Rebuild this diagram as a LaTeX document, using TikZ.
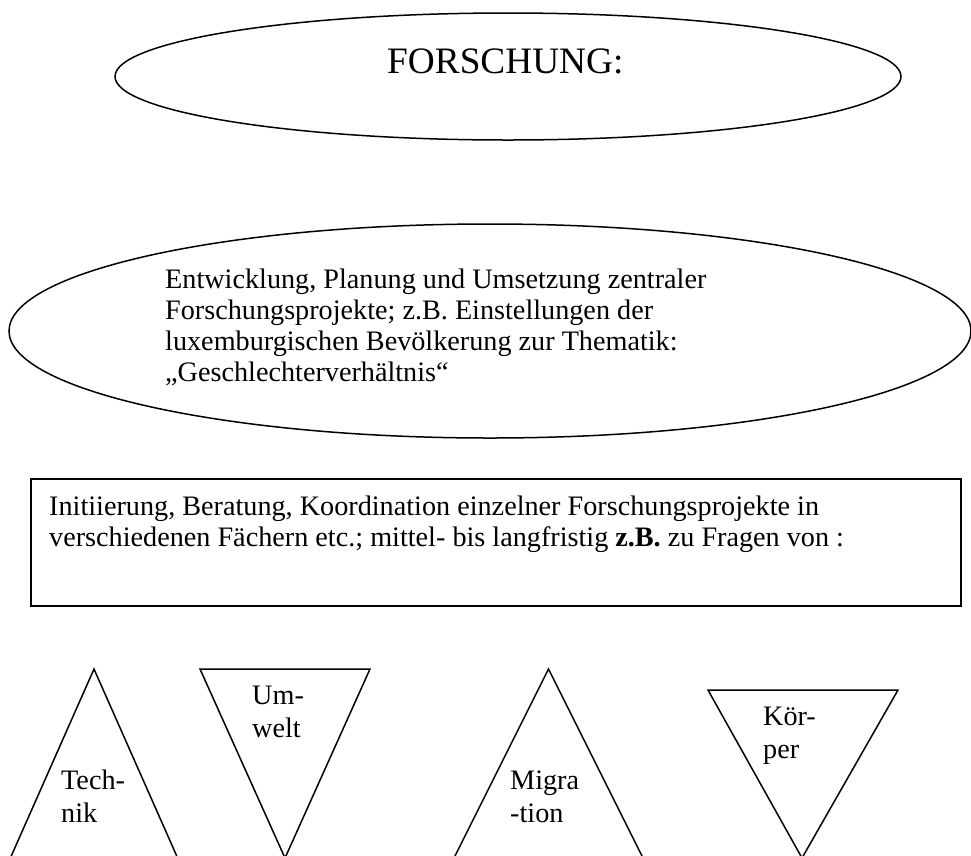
\documentclass[tikz,border=0pt]{standalone}
\usepackage{fontspec}
\setmainfont{Liberation Serif}
\usetikzlibrary{shapes.geometric}
\begin{document}
\begin{tikzpicture}[x=1pt,y=-1pt,
  outline/.style={draw=black,line width=1.5pt},
  % multi-line texts: the base anchor sits on the last line
  bodytext/.style={inner sep=0pt,anchor=base west,align=left,
    font=\fontsize{28.2}{31}\selectfont},
  tagtext/.style={inner sep=0pt,anchor=base west,align=left,
    font=\fontsize{28.2}{33.5}\selectfont}]
\useasboundingbox (0,0) rectangle (971,855);
\clip (0,0) rectangle (971,855);

% heading ellipse
\node[outline,ellipse,inner sep=0pt,minimum width=786,minimum height=127] (head) at (508,76.5) {};
\node[inner sep=0pt,anchor=base west,font=\fontsize{37.3}{40}\selectfont] (headtext) at (387,73) {FORSCHUNG:};

% central projects
\node[outline,ellipse,inner sep=0pt,minimum width=962,minimum height=214] (central) at (490,331) {};
\node[bodytext] (centraltext) at (165,381) {Entwicklung, Planung und Umsetzung zentraler\\
Forschungsprojekte; z.B. Einstellungen der\\
luxemburgischen Bevölkerung zur Thematik:\\
„Geschlechterverhältnis“};

% single projects
\node[draw=black,line width=2pt,inner sep=0pt,minimum width=930,minimum height=127] (single) at (496,542.5) {};
\node[bodytext] (singletext) at (49,546) {Initiierung, Beratung, Koordination einzelner Forschungsprojekte in\\
verschiedenen Fächern etc.; mittel- bis langfristig \textbf{z.B.} zu Fragen von :};

% topic triangles
\coordinate (techtop) at (94,669);
\coordinate (techl) at (94-91.6,876);
\coordinate (techr) at (94+91.6,876);
\draw[outline] (techl) -- (techtop) -- (techr);
\node[tagtext] (tech) at (61,822.5) {Tech-\\nik};

\coordinate (umwl) at (200,669);
\coordinate (umwr) at (370,669);
\coordinate (umwbot) at (285,858);
\draw[outline] (umwbot) -- (umwl) -- (umwr) -- cycle;
\node[tagtext] (umw) at (252,737.5) {Um-\\welt};

\coordinate (migtop) at (548.5,669);
\coordinate (migl) at (548.5-103.5,876);
\coordinate (migr) at (548.5+103.5,876);
\draw[outline] (migl) -- (migtop) -- (migr);
\node[tagtext] (mig) at (510,822.5) {Migra\\-tion};

\coordinate (koerl) at (708,690);
\coordinate (koerr) at (898,690);
\coordinate (koerbot) at (802,858);
\draw[outline] (koerbot) -- (koerl) -- (koerr) -- cycle;
\node[tagtext] (koer) at (763,758.5) {Kör-\\per};
\end{tikzpicture}
\end{document}
